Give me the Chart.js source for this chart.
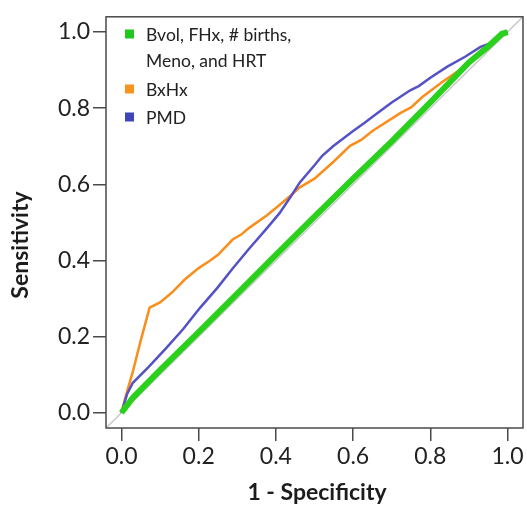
<!DOCTYPE html>
<html>
<head>
<meta charset="utf-8">
<script src="https://cdn.jsdelivr.net/npm/chart.js@4.4.0/dist/chart.umd.min.js"></script>
<style>
    html, body { margin: 0; padding: 0; background: #fff; }
</style>
</head>
<body>
<canvas id="rocChart" width="527" height="505"></canvas>
<script>
// Tick labels and axis titles
const tickValues = [0, 0.2, 0.4, 0.6, 0.8, 1.0];
const xTitle = '1 - Specificity';
const yTitle = 'Sensitivity';

// Series labels
const greenLabel = ['Bvol, FHx, # births,', 'Meno, and HRT'];
const orangeLabel = 'BxHx';
const blueLabel = 'PMD';

// Bvol, FHx, # births, Meno, and HRT
const greenFpr = [0, 0.03, 0.1, 0.2, 0.3, 0.4, 0.5, 0.6, 0.7, 0.8, 0.9, 0.95, 0.985, 1];
const greenTpr = [0, 0.04, 0.112, 0.212, 0.313, 0.415, 0.515, 0.615, 0.713, 0.815, 0.92, 0.962, 0.995, 1];

// BxHx
const orangeFpr = [0, 0.01, 0.03, 0.05, 0.073, 0.1, 0.13, 0.164, 0.2, 0.23, 0.25, 0.288, 0.31, 0.33, 0.377, 0.4, 0.44, 0.462, 0.5, 0.55, 0.592, 0.62, 0.65, 0.722, 0.75, 0.78, 0.83, 0.87, 0.9, 0.93, 0.97, 1];
const orangeTpr = [0, 0.04, 0.11, 0.19, 0.276, 0.29, 0.315, 0.35, 0.38, 0.4, 0.415, 0.455, 0.468, 0.485, 0.519, 0.538, 0.572, 0.592, 0.615, 0.66, 0.701, 0.716, 0.74, 0.787, 0.802, 0.83, 0.868, 0.896, 0.916, 0.951, 0.98, 1];

// PMD
const blueFpr = [0, 0.015, 0.029, 0.07, 0.117, 0.16, 0.203, 0.25, 0.288, 0.33, 0.377, 0.41, 0.44, 0.462, 0.5, 0.52, 0.548, 0.6, 0.63, 0.652, 0.7, 0.748, 0.77, 0.8, 0.844, 0.89, 0.93, 0.96, 0.982, 1];
const blueTpr = [0, 0.05, 0.078, 0.12, 0.171, 0.22, 0.275, 0.33, 0.379, 0.43, 0.485, 0.525, 0.57, 0.605, 0.65, 0.675, 0.7, 0.74, 0.762, 0.779, 0.815, 0.847, 0.858, 0.88, 0.909, 0.935, 0.961, 0.972, 0.995, 1];

// Reference diagonal spans the whole plot box
const diagX = [-0.04, 1.04];
const diagY = [-0.04, 1.04];

const toPoints = (xs, ys) => xs.map((x, i) => ({ x: x, y: ys[i] }));

const GREEN = '#2ad11c';
const ORANGE = '#f98e1d';
const BLUE = '#5452c4';
const FONT = 'Lato, "Open Sans", sans-serif';

// Box, axis titles and the in-plot legend
const framePlugin = {
    id: 'frame',
    afterDraw(chart) {
        const { ctx, chartArea: a } = chart;
        ctx.save();
        ctx.strokeStyle = '#4a4a4a';
        ctx.lineWidth = 1.5;
        ctx.strokeRect(a.left, a.top, a.right - a.left, a.bottom - a.top);

        ctx.fillStyle = '#1c1c1c';
        ctx.font = 'bold 23px ' + FONT;
        ctx.textAlign = 'center';
        ctx.textBaseline = 'middle';
        ctx.fillText(xTitle, 317, 493);
        ctx.save();
        ctx.translate(21, 245);
        ctx.rotate(-Math.PI / 2);
        ctx.fillText(yTitle, 0, 0);
        ctx.restore();

        // legend
        const items = [
            { text: greenLabel, color: '#1fc71f', y: 34 },
            { text: [orangeLabel], color: '#f7941d', y: 89 },
            { text: [blueLabel], color: '#4046b8', y: 117 }
        ];
        ctx.font = '17.5px ' + FONT;
        ctx.textAlign = 'left';
        items.forEach(item => {
            ctx.fillStyle = item.color;
            ctx.fillRect(125, item.y - 4.5, 9, 9);
            ctx.fillStyle = '#222';
            item.text.forEach((line, i) => ctx.fillText(line, 146, item.y + 1 + i * 26));
        });
        ctx.restore();
    }
};

const axisCommon = {
    type: 'linear',
    min: -0.04,
    max: 1.04,
    afterBuildTicks: scale => { scale.ticks = tickValues.map(v => ({ value: v })); },
    grid: {
        drawOnChartArea: false,
        tickLength: 13,
        color: '#4a4a4a',
        lineWidth: 1.5
    },
    border: { display: false },
    ticks: {
        font: { family: FONT, size: 23 },
        color: '#222',
        callback: v => v.toFixed(1)
    }
};

new Chart(document.getElementById('rocChart').getContext('2d'), {
    type: 'scatter',
    data: {
        datasets: [{
            label: 'Bvol, FHx, # births, Meno, and HRT',
            data: toPoints(greenFpr, greenTpr),
            borderColor: GREEN,
            borderWidth: 6,
            showLine: true,
            pointRadius: 0,
            order: 1
        }, {
            label: blueLabel,
            data: toPoints(blueFpr, blueTpr),
            borderColor: BLUE,
            borderWidth: 2.5,
            showLine: true,
            pointRadius: 0,
            order: 2
        }, {
            label: orangeLabel,
            data: toPoints(orangeFpr, orangeTpr),
            borderColor: ORANGE,
            borderWidth: 2.5,
            showLine: true,
            pointRadius: 0,
            order: 3
        }, {
            label: 'diagonal',
            data: toPoints(diagX, diagY),
            borderColor: '#c8c8c8',
            borderWidth: 1.5,
            showLine: true,
            pointRadius: 0,
            order: 4
        }]
    },
    options: {
        responsive: false,
        animation: false,
        layout: {
            padding: { top: 14, right: 4, left: 0, bottom: 0 }
        },
        plugins: {
            legend: { display: false },
            tooltip: { enabled: false }
        },
        scales: {
            x: {
                ...axisCommon,
                ticks: { ...axisCommon.ticks, padding: 2 },
                afterFit: scale => { scale.height = 77; }
            },
            y: {
                ...axisCommon,
                ticks: { ...axisCommon.ticks, padding: 3 },
                afterFit: scale => { scale.width = 106; }
            }
        }
    },
    plugins: [framePlugin]
});
</script>
</body>
</html>
